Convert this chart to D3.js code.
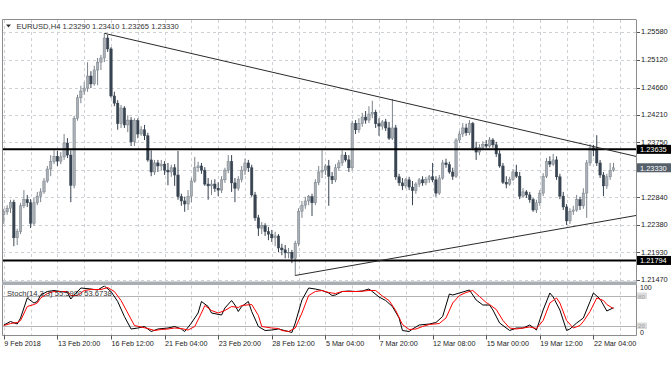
<!DOCTYPE html>
<html>
<head>
<meta charset="utf-8">
<script src="https://cdn.jsdelivr.net/npm/d3@7"></script>
<style>
body { margin: 0; background: #fff; }
</style>
</head>
<body>
<div id="container"></div>
<script>
var width = 672;
var height = 372;
var plotLeft = 3, plotRight = 636, plotTop = 20, plotBottom = 281.5;
var subTop = 285.5, subBottom = 335.5;

// EURUSD H4 candles, 9 Feb 04:00 .. 23 Mar 04:00
var opens = [1.2256,1.2260,1.2266,1.2276,1.2217,1.2227,1.2270,1.2280,1.2275,1.2241,
  1.2275,1.2286,1.2293,1.2311,1.2331,1.2343,1.2352,1.2344,1.2351,1.2374,
  1.2354,1.2304,1.2415,1.2449,1.2460,1.2465,1.2485,1.2472,1.2495,1.2508,
  1.2515,1.2548,1.2530,1.2452,1.2440,1.2406,1.2432,1.2404,1.2412,1.2376,
  1.2411,1.2389,1.2396,1.2386,1.2346,1.2326,1.2341,1.2336,1.2339,1.2329,
  1.2326,1.2333,1.2321,1.2285,1.2278,1.2273,1.2286,1.2311,1.2333,1.2336,
  1.2329,1.2306,1.2303,1.2306,1.2299,1.2296,1.2313,1.2329,1.2343,1.2308,
  1.2299,1.2314,1.2329,1.2341,1.2333,1.2288,1.2250,1.2233,1.2237,1.2227,
  1.2223,1.2217,1.2220,1.2200,1.2197,1.2192,1.2193,1.2183,1.2208,1.2261,
  1.2271,1.2278,1.2285,1.2275,1.2309,1.2326,1.2329,1.2336,1.2319,1.2313,
  1.2333,1.2341,1.2354,1.2346,1.2333,1.2406,1.2396,1.2406,1.2417,1.2412,
  1.2422,1.2425,1.2406,1.2402,1.2409,1.2399,1.2382,1.2399,1.2318,1.2308,
  1.2303,1.2313,1.2301,1.2295,1.2306,1.2313,1.2308,1.2314,1.2318,1.2313,
  1.2291,1.2316,1.2341,1.2338,1.2326,1.2319,1.2379,1.2389,1.2399,1.2391,
  1.2406,1.2366,1.2359,1.2367,1.2372,1.2369,1.2379,1.2371,1.2356,1.2336,
  1.2309,1.2306,1.2314,1.2326,1.2319,1.2286,1.2293,1.2288,1.2280,1.2263,
  1.2275,1.2291,1.2319,1.2343,1.2339,1.2346,1.2318,1.2286,1.2268,1.2245,
  1.2261,1.2263,1.2280,1.2270,1.2291,1.2341,1.2366,1.2362,1.2341,1.2321,
  1.2303,1.2318,1.23290];
var highs = [1.2265,1.2271,1.2280,1.2280,1.2232,1.2275,1.2296,1.2288,1.2281,1.2283,
  1.2293,1.2299,1.2316,1.2336,1.2354,1.2362,1.2361,1.2359,1.2389,1.2382,
  1.2362,1.2419,1.2454,1.2469,1.2475,1.2508,1.2493,1.2502,1.2515,1.2520,
  1.2556,1.2553,1.2533,1.2459,1.2445,1.2437,1.2435,1.2420,1.2417,1.2415,
  1.2415,1.2402,1.2404,1.2391,1.2362,1.2346,1.2346,1.2346,1.2344,1.2341,
  1.2338,1.2339,1.2361,1.2290,1.2285,1.2296,1.2316,1.2351,1.2343,1.2341,
  1.2334,1.2316,1.2313,1.2314,1.2309,1.2319,1.2333,1.2354,1.2354,1.2316,
  1.2319,1.2336,1.2348,1.2346,1.2338,1.2293,1.2255,1.2243,1.2241,1.2235,
  1.2230,1.2227,1.2223,1.2207,1.2205,1.2200,1.2197,1.2212,1.2266,1.2278,
  1.2285,1.2288,1.2290,1.2314,1.2336,1.2362,1.2339,1.2346,1.2326,1.2339,
  1.2346,1.2362,1.2359,1.2354,1.2411,1.2412,1.2415,1.2424,1.2427,1.2435,
  1.2444,1.2429,1.2415,1.2412,1.2414,1.2409,1.2447,1.2404,1.2323,1.2316,
  1.2316,1.2318,1.2311,1.2309,1.2316,1.2319,1.2318,1.2321,1.2341,1.2319,
  1.2321,1.2346,1.2348,1.2343,1.2333,1.2382,1.2394,1.2407,1.2406,1.2412,
  1.2409,1.2376,1.2372,1.2377,1.2379,1.2384,1.2382,1.2376,1.2362,1.2341,
  1.2319,1.2318,1.2331,1.2338,1.2326,1.2299,1.2296,1.2293,1.2283,1.2280,
  1.2296,1.2324,1.2349,1.2352,1.2356,1.2352,1.2323,1.2293,1.2273,1.2266,
  1.2270,1.2288,1.2285,1.2299,1.2346,1.2372,1.2371,1.2387,1.2346,1.2326,
  1.2323,1.2341,1.23410];
var lows = [1.2240,1.2255,1.2258,1.2203,1.2205,1.2223,1.2266,1.2268,1.2233,1.2237,
  1.2271,1.2276,1.2290,1.2308,1.2319,1.2339,1.2336,1.2339,1.2346,1.2349,
  1.2276,1.2299,1.2411,1.2440,1.2454,1.2459,1.2465,1.2469,1.2470,1.2495,
  1.2508,1.2525,1.2449,1.2435,1.2396,1.2399,1.2399,1.2392,1.2369,1.2369,
  1.2382,1.2386,1.2379,1.2343,1.2319,1.2321,1.2326,1.2329,1.2321,1.2304,
  1.2318,1.2303,1.2280,1.2270,1.2260,1.2263,1.2276,1.2308,1.2326,1.2323,
  1.2303,1.2280,1.2288,1.2293,1.2286,1.2291,1.2308,1.2324,1.2293,1.2276,
  1.2295,1.2309,1.2321,1.2326,1.2285,1.2245,1.2220,1.2223,1.2220,1.2213,
  1.2210,1.2203,1.2193,1.2188,1.2183,1.2183,1.2175,1.2154,1.2203,1.2250,
  1.2265,1.2271,1.2253,1.2271,1.2304,1.2316,1.2321,1.2270,1.2306,1.2309,
  1.2328,1.2336,1.2343,1.2326,1.2329,1.2389,1.2391,1.2401,1.2406,1.2407,
  1.2415,1.2399,1.2386,1.2396,1.2394,1.2379,1.2379,1.2313,1.2303,1.2296,
  1.2299,1.2296,1.2271,1.2290,1.2301,1.2303,1.2304,1.2308,1.2309,1.2285,
  1.2288,1.2313,1.2333,1.2323,1.2313,1.2316,1.2374,1.2384,1.2386,1.2387,
  1.2362,1.2346,1.2354,1.2362,1.2366,1.2366,1.2366,1.2351,1.2333,1.2306,
  1.2299,1.2303,1.2311,1.2316,1.2281,1.2283,1.2283,1.2275,1.2260,1.2258,
  1.2270,1.2286,1.2316,1.2334,1.2336,1.2313,1.2281,1.2263,1.2238,1.2240,
  1.2255,1.2260,1.2263,1.2265,1.2250,1.2336,1.2352,1.2336,1.2316,1.2286,
  1.2298,1.2313,1.23265];
var closes = [1.2260,1.2266,1.2276,1.2217,1.2227,1.2270,1.2280,1.2275,1.2241,1.2275,
  1.2286,1.2293,1.2311,1.2331,1.2343,1.2352,1.2344,1.2351,1.2374,1.2354,
  1.2304,1.2415,1.2449,1.2460,1.2465,1.2485,1.2472,1.2495,1.2508,1.2515,
  1.2548,1.2530,1.2452,1.2440,1.2406,1.2432,1.2404,1.2412,1.2376,1.2411,
  1.2389,1.2396,1.2386,1.2346,1.2326,1.2341,1.2336,1.2339,1.2329,1.2326,
  1.2333,1.2321,1.2285,1.2278,1.2273,1.2286,1.2311,1.2333,1.2336,1.2329,
  1.2306,1.2303,1.2306,1.2299,1.2296,1.2313,1.2329,1.2343,1.2308,1.2299,
  1.2314,1.2329,1.2341,1.2333,1.2288,1.2250,1.2233,1.2237,1.2227,1.2223,
  1.2217,1.2220,1.2200,1.2197,1.2192,1.2193,1.2183,1.2208,1.2261,1.2271,
  1.2278,1.2285,1.2275,1.2309,1.2326,1.2329,1.2336,1.2319,1.2313,1.2333,
  1.2341,1.2354,1.2346,1.2333,1.2406,1.2396,1.2406,1.2417,1.2412,1.2422,
  1.2425,1.2406,1.2402,1.2409,1.2399,1.2382,1.2399,1.2318,1.2308,1.2303,
  1.2313,1.2301,1.2295,1.2306,1.2313,1.2308,1.2314,1.2318,1.2313,1.2291,
  1.2316,1.2341,1.2338,1.2326,1.2319,1.2379,1.2389,1.2399,1.2391,1.2406,
  1.2366,1.2359,1.2367,1.2372,1.2369,1.2379,1.2371,1.2356,1.2336,1.2309,
  1.2306,1.2314,1.2326,1.2319,1.2286,1.2293,1.2288,1.2280,1.2263,1.2275,
  1.2291,1.2319,1.2343,1.2339,1.2346,1.2318,1.2286,1.2268,1.2245,1.2261,
  1.2263,1.2280,1.2270,1.2291,1.2341,1.2366,1.2362,1.2341,1.2321,1.2303,
  1.2318,1.2329,1.23330];

// Stoch(14,3,3): main (black) and signal (red), read at bar indices
var kBars = [0,2,4,5,7,9,10,11,13,15,17,19,20,21,23,26,28,30,32,34,
  36,38,40,42,44,46,49,51,53,54,56,58,59,61,62,65,66,68,69,70,
  71,73,74,76,78,80,82,85,86,87,89,91,93,95,97,98,99,101,103,105,
  107,109,110,112,114,116,118,119,121,122,124,127,129,131,133,134,136,139,141,143,
  145,146,148,151,153,155,157,158,159,161,163,164,166,168,169,171,173,175,176,178,
  180,182];
var kValues = [21,28,23,35,75,65,68,81,88,90,88,86,73,81,95,93,91,99,88,68,
  38,13,15,18,8,13,15,18,13,8,25,45,68,58,45,41,55,70,61,48,
  58,68,48,18,10,11,13,8,6,25,71,95,93,90,85,80,81,88,89,88,
  89,93,88,77,70,58,35,10,8,13,21,23,26,38,83,81,85,91,71,61,
  61,51,25,10,15,15,21,16,11,51,85,77,51,10,13,25,35,68,85,73,
  49,55.598];
var dBars = [0,2,4,5,7,9,10,11,13,15,17,19,20,22,24,26,29,31,33,35,
  37,39,41,43,45,47,49,51,53,55,57,59,60,62,64,66,68,70,71,74,
  76,77,80,82,83,85,87,89,91,93,95,97,99,101,103,106,109,111,113,115,
  117,119,121,123,125,127,130,132,134,136,138,140,142,144,145,147,149,151,153,155,
  157,159,161,163,165,166,168,170,172,173,175,177,179,180,182];
var dValues = [20,24,26,30,58,62,65,75,84,88,88,88,80,80,90,92,92,96,88,70,
  45,20,17,14,10,12,13,15,14,11,18,45,60,50,45,50,58,56,60,62,
  40,18,15,14,10,8,15,45,80,88,90,86,84,88,88,88,90,90,79,70,
  50,22,12,13,18,22,24,35,65,80,86,90,78,66,62,52,30,15,13,15,
  17,14,30,65,75,65,30,15,20,28,48,75,70,62,53.6738];

var timeLabels = ["9 Feb 2018","13 Feb 20:00","16 Feb 12:00","21 Feb 04:00","23 Feb 20:00","28 Feb 12:00",
  "5 Mar 04:00","7 Mar 20:00","12 Mar 08:00","15 Mar 00:00","19 Mar 12:00","22 Mar 04:00"];
var labelBars = [0,16,32,48,64,80,96,112,128,144,160,176];
var priceTicks = [1.25580,1.25120,1.24660,1.24210,1.23750,1.23290,1.22840,1.22380,1.21930,1.21470];
var levelPrices = [1.23635, 1.21794];
var lastPrice = 1.23330;
var upperBars = [30, 116], upperPrices = [1.25558, 1.24453];
var lowerBars = [87, 166], lowerPrices = [1.21545, 1.22317];
var stochLevels = [80, 20];

var svg = d3.select('#container').append('svg')
    .attr('width', width).attr('height', height)
    .style('font-family', '"Liberation Sans", Arial, sans-serif');

var x = d3.scaleLinear().domain([0, 182]).range([3.8, 613.5]);
var y = d3.scaleLinear().domain([1.21470, 1.25580]).range([280, 32]);
var ys = d3.scaleLinear().domain([0, 100]).range([subBottom, subTop]);

var defs = svg.append('defs');
defs.append('clipPath').attr('id', 'clipMain').append('rect')
    .attr('x', plotLeft).attr('y', plotTop).attr('width', plotRight - plotLeft).attr('height', plotBottom - plotTop);
defs.append('clipPath').attr('id', 'clipSub').append('rect')
    .attr('x', plotLeft).attr('y', subTop).attr('width', plotRight - plotLeft).attr('height', subBottom - subTop);

var gridColor = '#cdd1d5';
var gridBars = d3.range(0, 185, 8);

// vertical grid in both panes
[[plotTop, plotBottom], [subTop, subBottom]].forEach(function(p){
    svg.append('g').selectAll('line').data(gridBars).enter().append('line')
        .attr('x1', function(d){ return Math.round(x(d)) + 0.5; })
        .attr('x2', function(d){ return Math.round(x(d)) + 0.5; })
        .attr('y1', p[0]).attr('y2', p[1])
        .attr('stroke', gridColor).attr('stroke-dasharray', '3,3');
});

svg.append('g').selectAll('line').data(priceTicks).enter().append('line')
    .attr('x1', plotLeft).attr('x2', plotRight)
    .attr('y1', function(d){ return Math.round(y(d)) + 0.5; })
    .attr('y2', function(d){ return Math.round(y(d)) + 0.5; })
    .attr('stroke', gridColor).attr('stroke-dasharray', '3,3');

// candles
var bars = d3.range(opens.length).map(function(i){
    return {i: i, o: opens[i], h: highs[i], l: lows[i], c: closes[i]};
});
var upFill = '#a9afb5', upLine = '#7b838b', downFill = '#384451';

var candles = svg.append('g').attr('clip-path', 'url(#clipMain)')
    .selectAll('g').data(bars).enter().append('g');

candles.append('line')
    .attr('x1', function(d){ return x(d.i); })
    .attr('x2', function(d){ return x(d.i); })
    .attr('y1', function(d){ return y(d.h); })
    .attr('y2', function(d){ return y(d.l); })
    .attr('stroke', function(d){ return d.c >= d.o ? upLine : downFill; })
    .attr('stroke-width', 1);

candles.append('rect')
    .attr('x', function(d){ return x(d.i) - 1.2; })
    .attr('width', 2.4)
    .attr('y', function(d){ return y(Math.max(d.o, d.c)); })
    .attr('height', function(d){ return Math.max(0.8, Math.abs(y(d.o) - y(d.c))); })
    .attr('fill', function(d){ return d.c >= d.o ? upFill : downFill; })
    .attr('stroke', function(d){ return d.c >= d.o ? upLine : downFill; })
    .attr('stroke-width', 0.5);

// horizontal levels and trendlines
svg.append('g').selectAll('line').data(levelPrices).enter().append('line')
    .attr('x1', plotLeft).attr('x2', plotRight)
    .attr('y1', function(d){ return y(d); }).attr('y2', function(d){ return y(d); })
    .attr('stroke', '#000').attr('stroke-width', 2);

function rayEnd(b, p){
    var slope = (p[1] - p[0]) / (b[1] - b[0]);
    var bEnd = x.invert(plotRight);
    return [bEnd, p[0] + slope * (bEnd - b[0])];
}
[[upperBars, upperPrices], [lowerBars, lowerPrices]].forEach(function(t){
    var e = rayEnd(t[0], t[1]);
    svg.append('line').attr('clip-path', 'url(#clipMain)')
        .attr('x1', x(t[0][0])).attr('y1', y(t[1][0]))
        .attr('x2', x(e[0])).attr('y2', y(e[1]))
        .attr('stroke', '#2a2a2a').attr('stroke-width', 1);
});

// stochastic pane
svg.append('g').selectAll('line').data(stochLevels).enter().append('line')
    .attr('x1', plotLeft).attr('x2', plotRight)
    .attr('y1', function(d){ return Math.round(ys(d)) + 0.5; })
    .attr('y2', function(d){ return Math.round(ys(d)) + 0.5; })
    .attr('stroke', '#b4b4b4');

var stochLine = d3.line()
    .x(function(d){ return x(d[0]); })
    .y(function(d){ return ys(d[1]); });

svg.append('path').attr('clip-path', 'url(#clipSub)')
    .datum(d3.zip(kBars, kValues))
    .attr('d', stochLine).attr('fill', 'none').attr('stroke', '#000').attr('stroke-width', 1);
svg.append('path').attr('clip-path', 'url(#clipSub)')
    .datum(d3.zip(dBars, dValues))
    .attr('d', stochLine).attr('fill', 'none').attr('stroke', '#ff0000').attr('stroke-width', 1);

// frames
var frame = svg.append('g').attr('fill', 'none').attr('stroke', '#8c8c8c');
frame.append('line').attr('x1', plotLeft - 0.5).attr('x2', plotRight).attr('y1', plotTop - 0.5).attr('y2', plotTop - 0.5);
frame.append('line').attr('x1', plotLeft - 0.5).attr('x2', plotLeft - 0.5).attr('y1', plotTop - 0.5).attr('y2', subBottom);
frame.append('line').attr('x1', plotRight + 0.5).attr('x2', plotRight + 0.5).attr('y1', plotTop - 0.5).attr('y2', subBottom);
frame.append('line').attr('x1', plotLeft - 0.5).attr('x2', plotRight + 0.5).attr('y1', subBottom).attr('y2', subBottom);
svg.append('rect').attr('x', plotLeft - 1).attr('y', plotBottom).attr('width', plotRight - plotLeft + 2).attr('height', 3.5)
    .attr('fill', '#a9aeb3');

// price axis; the 1.23290 label sits under the last-price box
var shownTicks = priceTicks.filter(function(d){ return Math.abs(y(d) - y(lastPrice)) > 6; });
svg.append('g').selectAll('line').data(priceTicks).enter().append('line')
    .attr('x1', plotRight + 1).attr('x2', plotRight + 4)
    .attr('y1', function(d){ return Math.round(y(d)) + 0.5; })
    .attr('y2', function(d){ return Math.round(y(d)) + 0.5; })
    .attr('stroke', '#555');
svg.append('g').selectAll('text').data(shownTicks).enter().append('text')
    .attr('x', 641).attr('y', function(d){ return y(d) + 2.4; })
    .attr('font-size', '7.4px').attr('fill', '#222')
    .text(function(d){ return d.toFixed(5); });

function priceBox(p, bg){
    svg.append('rect').attr('x', 637).attr('y', y(p) - 4.5).attr('width', 34).attr('height', 9).attr('fill', bg);
    svg.append('text').attr('x', 640).attr('y', y(p) + 2.9)
        .attr('font-size', '7.4px').attr('fill', '#fff').text(p.toFixed(5));
}
levelPrices.forEach(function(p){ priceBox(p, '#000'); });
priceBox(lastPrice, '#56606b');

// stoch scale labels
svg.append('text').attr('x', 640).attr('y', ys(100) + 4.8).attr('font-size', '7px').attr('fill', '#222').text('100');
svg.append('text').attr('x', 640).attr('y', ys(0) - 0.6).attr('font-size', '7px').attr('fill', '#222').text('0');
stochLevels.forEach(function(v){
    svg.append('rect').attr('x', 637).attr('y', ys(v) - 3).attr('width', 10).attr('height', 6.5).attr('fill', '#dcdcdc');
    svg.append('text').attr('x', 638).attr('y', ys(v) + 2.6 + (v > 50 ? 0.6 : -0.6)).attr('font-size', '6.2px').attr('fill', '#a0a0a0').text(v);
});

// time axis
svg.append('g').selectAll('line').data(labelBars).enter().append('line')
    .attr('x1', function(d){ return Math.round(x(d)) + 0.5; })
    .attr('x2', function(d){ return Math.round(x(d)) + 0.5; })
    .attr('y1', subBottom).attr('y2', subBottom + 4)
    .attr('stroke', '#555');
svg.append('g').selectAll('text').data(labelBars).enter().append('text')
    .attr('x', function(d){ return x(d) + 0.5; }).attr('y', 346)
    .attr('font-size', '7.2px').attr('fill', '#222')
    .text(function(d, i){ return timeLabels[i]; });

// headers
svg.append('path').attr('d', 'M6,24.5 L11,24.5 L8.5,27.5 Z').attr('fill', '#333');
svg.append('text').attr('x', 16.5).attr('y', 29).attr('font-size', '7.6px').attr('fill', '#333')
    .text('EURUSD,H4  1.23290 1.23410 1.23265 1.23330');
svg.append('text').attr('x', 7).attr('y', 295.5).attr('font-size', '7.6px').attr('fill', '#333')
    .text('Stoch(14,3,3) 55.5980 53.6738');
</script>
</body>
</html>
